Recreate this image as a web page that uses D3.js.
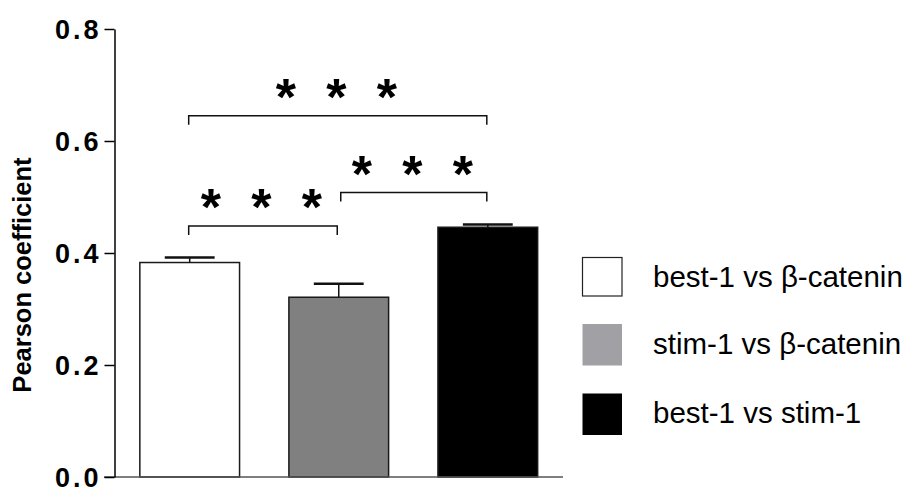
<!DOCTYPE html>
<html>
<head>
<meta charset="utf-8">
<script src="https://cdn.jsdelivr.net/npm/d3@7/dist/d3.min.js"></script>
<style>
  html, body { margin: 0; padding: 0; background: #fff; }
  svg { display: block; }
</style>
</head>
<body>
<svg id="chart" width="918" height="488"></svg>
<script>
// ---- data ----
const categories = ["best-1 vs β-catenin", "stim-1 vs β-catenin", "best-1 vs stim-1"];
const means = [0.383, 0.321, 0.446];
const sems = [0.009, 0.024, 0.005];
const barColors = ["#ffffff", "#808080", "#000000"];
const legendColors = ["#ffffff", "#a1a1a5", "#000000"];
const yTicks = [0.0, 0.2, 0.4, 0.6, 0.8];
const yLabel = "Pearson coefficient";
// significance comparisons: [from index, to index, bracket height, label]
const comparisons = [
  [0, 2, 0.645, "* * *"],
  [1, 2, 0.508, "* * *"],
  [0, 1, 0.448, "* * *"]
];

// ---- layout ----
const svg = d3.select("#chart");
const font = "'Liberation Sans', Arial, Helvetica, sans-serif";

const y = d3.scaleLinear().domain([0, 0.8]).range([477, 29]);
const x = d3.scaleBand().domain(d3.range(categories.length))
  .range([114.5, 563]).paddingInner(0.331).paddingOuter(0.17);

// bars
svg.append("g").selectAll("rect").data(means).join("rect")
  .attr("x", (d, i) => x(i))
  .attr("y", d => y(d))
  .attr("width", x.bandwidth())
  .attr("height", d => y(0) - y(d))
  .attr("fill", (d, i) => barColors[i])
  .attr("stroke", "#1a1a1a")
  .attr("stroke-width", 1.5);

// error bars (upper only)
const eb = svg.append("g").attr("stroke", "#111");
means.forEach((m, i) => {
  const cx = x(i) + x.bandwidth() / 2;
  eb.append("line").attr("x1", cx).attr("x2", cx)
    .attr("y1", y(m)).attr("y2", y(m + sems[i])).attr("stroke-width", 1.5);
  eb.append("line").attr("x1", cx - x.bandwidth() / 4).attr("x2", cx + x.bandwidth() / 4)
    .attr("y1", y(m + sems[i])).attr("y2", y(m + sems[i])).attr("stroke-width", 2.5);
});

// x axis line
svg.append("line")
  .attr("x1", 104).attr("x2", 563)
  .attr("y1", y(0)).attr("y2", y(0))
  .attr("stroke", "#555").attr("stroke-width", 1.6);

// y axis
const yAxis = d3.axisLeft(y).tickValues(yTicks).tickFormat(d3.format(".1f"))
  .tickSize(10).tickSizeOuter(0).tickPadding(3);
const ga = svg.append("g").attr("transform", "translate(114.5,0)").call(yAxis);
ga.select(".domain").attr("stroke", "#000").attr("stroke-width", 1.5);
ga.selectAll(".tick line").attr("stroke", "#000").attr("stroke-width", 1.5);
ga.selectAll(".tick text")
  .attr("font-family", font).attr("font-size", 27).attr("font-weight", "bold")
  .attr("fill", "#000").attr("letter-spacing", 3).attr("dy", "0.36em");

// y label
svg.append("text")
  .attr("transform", "translate(31,275) rotate(-90)")
  .attr("text-anchor", "middle")
  .attr("font-family", font).attr("font-size", 25.5).attr("font-weight", "bold")
  .attr("fill", "#000")
  .text(yLabel);

// significance brackets
const br = svg.append("g");
comparisons.forEach(([a, b, h, lab], k) => {
  const xa = x(a) + x.bandwidth() / 2 - 1 + (a === 1 ? 3 : 0);
  const xb = x(b) + x.bandwidth() / 2 - 1 - (b === 1 ? 0.5 : 0);
  const yy = y(h);
  br.append("path")
    .attr("d", `M${xa},${yy + 9}V${yy}H${xb}V${yy + 9}`)
    .attr("fill", "none").attr("stroke", "#111").attr("stroke-width", 1.5);
  const mid = (xa + xb) / 2 - 1.5;
  [-1, 0, 1].forEach(j => {
    br.append("text")
      .attr("x", mid + j * 50.5)
      .attr("y", yy - 30 + 29)
      .attr("text-anchor", "middle")
      .attr("font-family", font).attr("font-size", 52).attr("font-weight", "bold")
      .attr("fill", "#000")
      .text("*");
  });
});

// legend
const lg = svg.append("g");
categories.forEach((c, i) => {
  const top = [257.5, 324, 393.5][i];
  lg.append("rect")
    .attr("x", 582.5).attr("y", top).attr("width", 39.5).attr("height", 38.5 + (i > 0 ? 3 : 0))
    .attr("fill", legendColors[i])
    .attr("stroke", i === 0 ? "#222" : "none").attr("stroke-width", 1.2);
  lg.append("text")
    .attr("x", 653).attr("y", top + 29.5)
    .attr("font-family", font).attr("font-size", 29.5)
    .attr("fill", "#000")
    .text(c);
});
</script>
</body>
</html>
